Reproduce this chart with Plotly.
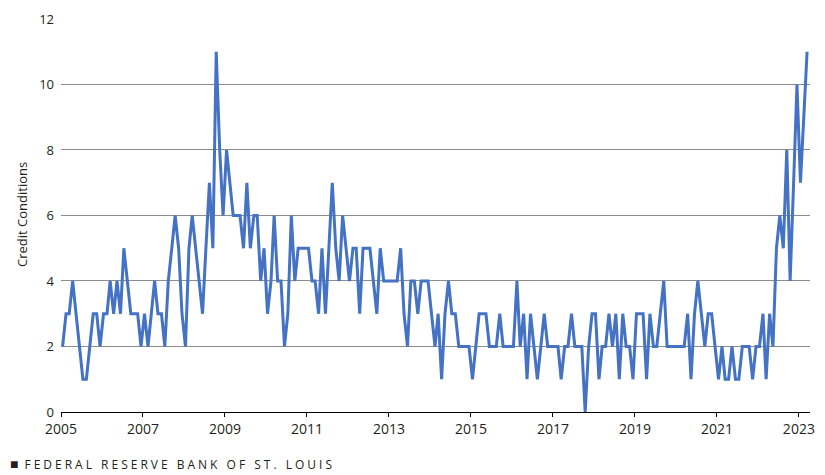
"""Credit conditions, monthly, 2005-2023 — Plotly recreation."""

import pandas as pd
import plotly.graph_objects as go

# monthly readings, Jan 2005 .. Mar 2023
start_month = "2005-01-01"
credit_conditions = [
    2, 3, 3, 4, 3, 2, 1, 1, 2, 3,
    3, 2, 3, 3, 4, 3, 4, 3, 5, 4,
    3, 3, 3, 2, 3, 2, 3, 4, 3, 3,
    2, 4, 5, 6, 5, 3, 2, 5, 6, 5,
    4, 3, 5, 7, 5, 11, 8, 6, 8, 7,
    6, 6, 6, 5, 7, 5, 6, 6, 4, 5,
    3, 4, 6, 4, 4, 2, 3, 6, 4, 5,
    5, 5, 5, 4, 4, 3, 5, 3, 5, 7,
    5, 4, 6, 5, 4, 5, 5, 3, 5, 5,
    5, 4, 3, 5, 4, 4, 4, 4, 4, 5,
    3, 2, 4, 4, 3, 4, 4, 4, 3, 2,
    3, 1, 3, 4, 3, 3, 2, 2, 2, 2,
    1, 2, 3, 3, 3, 2, 2, 2, 3, 2,
    2, 2, 2, 4, 2, 3, 1, 3, 2, 1,
    2, 3, 2, 2, 2, 2, 1, 2, 2, 3,
    2, 2, 2, 0, 2, 3, 3, 1, 2, 2,
    3, 2, 3, 1, 3, 2, 2, 1, 3, 3,
    3, 1, 3, 2, 2, 3, 4, 2, 2, 2,
    2, 2, 2, 3, 1, 3, 4, 3, 2, 3,
    3, 2, 1, 2, 1, 1, 2, 1, 1, 2,
    2, 2, 1, 2, 2, 3, 1, 3, 2, 5,
    6, 5, 8, 4, 7, 10, 7, 9, 11,
]
year_ticks = [str(y) for y in range(2005, 2024, 2)]
y_ticks = [0, 2, 4, 6, 8, 10, 12]
y_title = "Credit Conditions"
source = "FEDERAL RESERVE BANK OF ST. LOUIS"

# plot each month mid-month, like the original
dates = pd.date_range(start_month, periods=len(credit_conditions), freq="MS") + pd.Timedelta(days=14)

FONT = "Open Sans"
TEXT = "#231f20"
PAD = 8  # default page margin of the html body
W, H = 825 - PAD, 475 - PAD
L, R, T, B = 61 - PAD, 15, 18 - PAD, 63
pw, ph = W - L - R, H - T - B

fig = go.Figure()
fig.add_trace(go.Scatter(
    x=dates, y=credit_conditions, mode="lines",
    line=dict(color="#4472c4", width=3),
    showlegend=False, hoverinfo="x+y",
))

fig.update_layout(
    width=W, height=H,
    margin=dict(l=L, r=R, t=T, b=B),
    paper_bgcolor="white", plot_bgcolor="white",
    font=dict(family=FONT, color=TEXT, size=13),
    xaxis=dict(
        type="date", automargin=False,
        range=["2005-01-01", "2023-04-10"],
        tickmode="array",
        tickvals=[f"{y}-01-01" for y in year_ticks],
        ticktext=year_ticks,
        tickfont=dict(size=14),
        showgrid=False, zeroline=False,
        showline=True, linecolor="black", linewidth=1.2,
        ticks="outside", ticklen=4, tickcolor="black",
    ),
    yaxis=dict(
        range=[0, 12.03], automargin=False,
        tickmode="array", tickvals=y_ticks,
        tickfont=dict(size=13),
        showgrid=True, gridcolor="#8c8c8c", gridwidth=1,
        zeroline=False, showline=False, ticks="",
        ticklabelstandoff=6,
    ),
)

# y axis title, placed by hand
fig.add_annotation(
    xref="paper", yref="paper", x=(22 - PAD - L) / pw, y=0.5,
    xanchor="center", yanchor="middle", textangle=-90, showarrow=False,
    text=y_title, font=dict(family=FONT, size=13, color=TEXT),
)

# footer: bigger square, wide letter spacing
spaced = "\u2005".join(source)
fig.add_annotation(
    xref="paper", yref="paper", x=-L / pw, y=-(463 - 412) / ph,
    xanchor="left", yanchor="middle", showarrow=False,
    text="<span style='font-size:14px'>\u25a0</span>\u2005\u2005" + spaced,
    font=dict(family=FONT, size=12, color=TEXT),
)

fig.write_html("out.html")
